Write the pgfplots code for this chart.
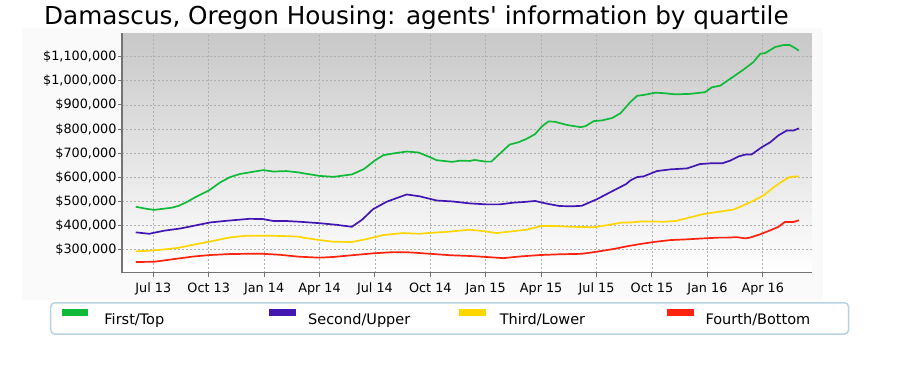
\documentclass[border=0pt]{standalone}
\usepackage{fontspec}
\setmainfont{DejaVu Sans}
\usepackage{pgfplots}
\pgfplotsset{compat=1.18}
\definecolor{cgreen}{RGB}{16,186,56}
\definecolor{cpurple}{RGB}{66,22,176}
\definecolor{cyellow}{RGB}{255,214,0}
\definecolor{cred}{RGB}{255,34,14}
\definecolor{bgtop}{RGB}{200,200,200}
\definecolor{gridc}{RGB}{176,176,176}
\definecolor{legb}{RGB}{185,210,225}
\definecolor{axc}{RGB}{115,115,115}
\begin{document}
\begin{tikzpicture}[x=1pt,y=1pt]
\fill[white] (0,0) rectangle (900,386);
\fill[black!2] (22,86) rectangle (823,358);
\node[anchor=base west, inner sep=0pt, font=\fontsize{24.7}{29}\selectfont] at (44,361) {Damascus, Oregon Housing: agents\textquotesingle\ information by quartile};
\begin{axis}[
  at={(122pt,113.3pt)}, anchor=south west,
  scale only axis, width=689.7pt, height=239.4pt,
  xmin=4.305, xmax=41.65, ymin=204700, ymax=1197000,
  scaled y ticks=false,
  axis lines*=left,
  axis line style={-, draw=axc, line width=1.1pt},
  axis background/.style={top color=bgtop, bottom color=white},
  tick align=outside, major tick length=4pt,
  tick style={draw=axc, line width=1pt},
  grid=major,
  major grid style={gridc, dash pattern=on 2pt off 2pt, line width=0.7pt},
  xtick={6,9,12,15,18,21,24,27,30,33,36,39},
  xticklabels={Jul 13, Oct 13, Jan 14, Apr 14, Jul 14, Oct 14, Jan 15, Apr 15, Jul 15, Oct 15, Jan 16, Apr 16},
  ytick={300000,400000,500000,600000,700000,800000,900000,1000000,1100000},
  yticklabels={{\$300,000},{\$400,000},{\$500,000},{\$600,000},{\$700,000},{\$800,000},{\$900,000},{\$1,000,000},{\$1,100,000}},
  xticklabel style={font=\fontsize{12.8}{15}\selectfont, inner sep=0pt, anchor=base, yshift=-15.5pt},
  yticklabel style={font=\fontsize{12.8}{15}\selectfont, inner sep=0pt, anchor=east, xshift=-1.3pt},
  legend columns=4,
  legend style={at={(-0.1044,-0.1224)}, anchor=north west, draw=legb, line width=1.5pt,
    rounded corners=4pt, fill=white, inner sep=0pt, column sep=0pt,
    nodes={inner sep=0pt, text height=21.3pt, text depth=10pt, font=\fontsize{14.5}{17}\selectfont}},
  legend image code/.code={\fill[#1, sharp corners] (0pt,3.3pt) rectangle (25pt,8.3pt); \path (-11pt,0pt) (41pt,0pt);},
]
\addplot[cgreen, line width=1.7pt] coordinates {
(5.05,478000) (5.6,470000) (6.04,465000) (6.57,470000) (7.0,474000) (7.38,482000) (7.8,497000)
(8.19,514000) (8.6,530000) (9.0,545000) (9.62,579000) (10.16,601000) (10.7,614000) (11.4,623000)
(11.95,630000) (12.5,624000) (13.2,626000) (13.9,620000) (14.1,617000) (15.0,606000) (15.76,602000)
(16.75,612000) (17.4,634000) (18.0,670000) (18.46,692000) (19.0,699000) (19.72,707000) (20.35,703000)
(21.0,683000) (21.34,671000) (22.2,664000) (22.58,669000) (23.14,668000) (23.4,672000) (24.0,665000)
(24.3,665000) (24.76,698000) (25.3,736000) (25.76,745000) (26.2,759000) (26.67,779000) (27.04,811000)
(27.4,832000) (27.76,830000) (28.4,817000) (29.13,808000) (29.4,812000) (29.85,833000) (30.3,836000)
(30.85,846000) (31.3,866000) (31.83,912000) (32.2,938000) (32.6,942000) (33.2,951000) (33.6,949000)
(34.26,944000) (35.07,946000) (35.88,953000) (36.24,973000) (36.7,980000) (37.23,1008000) (37.95,1046000)
(38.5,1078000) (38.86,1112000) (39.13,1115000) (39.67,1140000) (40.1,1148000) (40.44,1149000)
(40.66,1140000) (40.96,1125000)
};
\addlegendentry{\makebox[154pt][l]{First/Top}}
\addplot[cpurple, line width=1.7pt] coordinates {
(5.05,372000) (5.77,366000) (6.6,379000) (7.47,388000) (8.37,402000) (9.08,413000) (9.98,420000)
(11.2,428000) (11.95,427000) (12.5,419000) (13.2,419000) (13.9,416000) (15.0,410000) (15.94,403000)
(16.75,395000) (17.3,424000) (17.9,468000) (18.64,499000) (19.72,529000) (20.44,521000) (21.34,504000)
(22.2,500000) (23.14,492000) (24.0,488000) (24.76,488000) (25.5,495000) (26.1,498000) (26.67,502000)
(27.3,491000) (28.0,481000) (28.7,480000) (29.2,482000) (30.04,510000) (30.76,539000) (31.6,572000)
(31.83,587000) (32.2,601000) (32.55,604000) (33.27,626000) (34.0,633000) (34.9,637000) (35.6,655000)
(36.15,658000) (36.8,658000) (37.23,669000) (37.7,687000) (38.1,695000) (38.4,695000) (38.95,725000)
(39.4,745000) (39.85,774000) (40.3,794000) (40.66,794000) (40.96,803000)
};
\addlegendentry{\makebox[136pt][l]{\hspace*{-4pt}Second/Upper}}
\addplot[cyellow, line width=1.7pt] coordinates {
(5.05,293000) (6.04,297000) (7.3,307000) (8.19,321000) (9.08,334000) (10.16,351000) (11.05,358000)
(11.95,358000) (13.0,357000) (13.9,354000) (14.1,350000) (15.0,340000) (15.76,333000) (16.75,332000)
(17.56,344000) (18.46,361000) (19.54,369000) (20.44,366000) (21.0,370000) (21.9,374000) (23.14,383000)
(24.0,376000) (24.58,369000) (25.3,375000) (26.2,383000) (27.0,398000) (27.8,398000) (28.7,395000)
(29.85,393000) (30.6,402000) (31.4,413000) (31.83,413000) (32.4,417000) (32.9,417000) (33.6,416000)
(34.3,419000) (35.07,434000) (35.8,448000) (36.5,456000) (37.4,466000) (37.95,484000) (38.5,503000)
(39.04,525000) (39.58,558000) (40.03,582000) (40.48,602000) (40.96,604000)
};
\addlegendentry{\makebox[154pt][l]{\hspace*{-2pt}Third/Lower}}
\addplot[cred, line width=1.7pt] coordinates {
(5.05,249000) (6.04,250000) (7.1,261000) (8.19,272000) (9.08,278000) (10.16,282000) (11.05,283000)
(11.95,283000) (12.85,279000) (13.9,271000) (15.0,267000) (15.76,270000) (16.75,277000) (17.9,285000)
(19.0,290000) (19.9,289000) (21.0,283000) (22.1,277000) (23.14,274000) (24.0,270000) (24.95,265000)
(25.85,272000) (26.95,278000) (28.0,281000) (29.2,283000) (30.04,292000) (31.0,304000) (31.7,315000)
(32.4,324000) (33.1,332000) (34.0,340000) (34.9,343000) (35.8,347000) (36.6,350000) (37.05,350000)
(37.6,352000) (38.05,347000) (38.3,350000) (38.86,364000) (39.4,380000) (39.85,395000) (40.2,415000)
(40.66,415000) (40.96,422000)
};
\addlegendentry{\makebox[139pt][l]{\hspace*{-4pt}Fourth/Bottom}}
\end{axis}
\pgfresetboundingbox
\path[use as bounding box] (0,0) rectangle (900,386);
\end{tikzpicture}
\end{document}
